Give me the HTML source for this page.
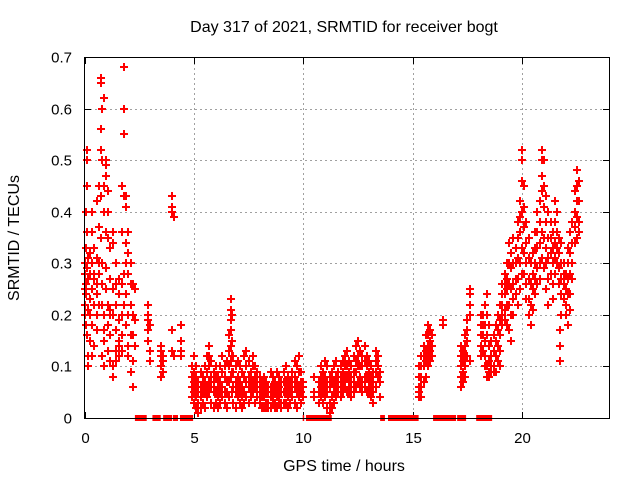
<!DOCTYPE html>
<html><head><meta charset="utf-8"><style>
body{margin:0;background:#fff}
svg{display:block;font-family:"Liberation Sans",sans-serif}
</style></head><body>
<svg id="chart" width="640" height="480" viewBox="0 0 640 480">
<rect width="640" height="480" fill="#fff"/>
<text x="344" y="32" font-size="16" text-anchor="middle">Day 317 of 2021, SRMTID for receiver bogt</text>
<text transform="translate(19,238) rotate(-90)" font-size="16" text-anchor="middle">SRMTID / TECUs</text>
<text x="344" y="471" font-size="16" text-anchor="middle">GPS time / hours</text>
<g id="grid"></g>
<g id="ticks"></g>
<g id="gaps"></g>
<g id="points"></g>
<rect x="84.5" y="57.5" width="525" height="361" fill="none" stroke="#000" stroke-width="1"/>
</svg>
<script>
const xTicks=[0,5,10,15,20];
const yTicks=[0,0.1,0.2,0.3,0.4,0.5,0.6,0.7];
const gapStarts=[2.3,3.1,3.59,4.04,4.36,9.97,10.12,13.51,13.87,15.93,17.03,17.9];
const gapEnds=[2.84,3.48,4.0,4.27,4.96,10.0,11.3,13.73,15.27,16.98,17.44,18.63];
const sampleTimes=[0,0.05,0.1,0.15,0.25,0.35,0.45,0.55,0.65,0.75,0.8,0.9,1.0,1.05,1.15,1.3,1.45,1.55,1.7,1.8,1.9,2.0,2.1,2.2,2.3,2.9,3.0,3.5,3.6,4.0,4.1,4.4,
4.9,5.0,5.1,5.2,5.3,5.4,5.5,5.6,5.7,5.8,5.9,6.0,6.1,6.2,6.3,6.4,6.5,6.6,6.7,6.75,6.8,6.9,7.0,7.1,7.2,7.3,7.4,7.5,7.6,7.7,7.8,7.9,8.0,8.1,8.2,8.3,8.4,8.5,8.6,8.7,8.8,8.9,9.0,9.1,9.2,9.3,9.4,9.5,9.6,9.7,9.8,9.9,10.0,
10.5,10.7,10.8,10.9,11.0,11.1,11.2,11.3,11.4,11.5,11.6,11.7,11.8,11.9,12.0,12.1,12.2,12.3,12.4,12.5,12.6,12.7,12.8,12.9,13.0,13.1,13.2,13.3,13.4,13.5,
15.3,15.4,15.5,15.6,15.7,15.8,15.9,16.4,17.2,17.3,17.4,17.5,17.6,18.1,18.2,18.3,18.4,18.5,18.6,18.7,18.8,18.9,19.0,19.1,19.2,19.3,19.4,19.5,19.6,19.7,19.8,19.9,
20.0,20.1,20.2,20.3,20.4,20.5,20.6,20.7,20.8,20.9,21.0,21.1,21.2,21.3,21.4,21.5,21.6,21.7,21.75,21.8,21.9,22.0,22.1,22.2,22.3,22.4,22.5,22.6];
const sampleValues=[
[0.2,0.25,0.28,0.3,0.22],[0.33,0.18,0.26,0.4,0.24],[0.45,0.5,0.52,0.36,0.16,0.29],[0.12,0.1,0.21,0.27,0.31],[0.2,0.23,0.28,0.32,0.15],[0.4,0.36,0.3,0.25,0.18,0.12],[0.28,0.27,0.22,0.14,0.33],[0.26,0.24,0.31,0.42,0.2,0.17],[0.3,0.28,0.22,0.37,0.45],[0.66,0.65,0.56,0.52,0.43,0.35],[0.6,0.5,0.3,0.26,0.22,0.12],[0.62,0.45,0.4,0.2,0.17,0.15,0.1],[0.5,0.49,0.47,0.36,0.29,0.25],[0.44,0.4,0.35,0.22,0.18,0.13],[0.33,0.27,0.2,0.16,0.11,0.21],[0.36,0.34,0.25,0.2,0.1,0.08],[0.3,0.26,0.22,0.17,0.13,0.11],[0.27,0.24,0.19,0.15,0.14,0.12],[0.45,0.36,0.26,0.2,0.16,0.13],[0.68,0.6,0.55,0.43,0.28,0.22],[0.43,0.41,0.34,0.3,0.24,0.18],[0.36,0.32,0.28,0.2,0.14,0.12],[0.3,0.26,0.22,0.16,0.09],[0.26,0.2,0.16,0.11,0.06],[0.25,0.19,0.14],[0.22,0.2,0.19,0.17,0.15],[0.18,0.13,0.11],[0.14,0.13,0.12,0.1,0.08],[0.12,0.11,0.09],[0.43,0.41,0.4,0.17,0.13],[0.39,0.12],[0.18,0.15,0.13,0.12],
[0.06,0.08,0.1,0.04],[0.12,0.09,0.07,0.05,0.03],[0.1,0.08,0.06,0.02,0.04],[0.07,0.05,0.03,0.01],[0.09,0.06,0.04,0.02],[0.08,0.05,0.03,0.06],[0.1,0.07,0.05,0.02],[0.12,0.09,0.06,0.04],[0.14,0.12,0.1,0.07,0.05],[0.11,0.08,0.06,0.03],[0.09,0.07,0.05,0.02],[0.1,0.08,0.05,0.03],[0.08,0.06,0.04,0.02],[0.1,0.07,0.05,0.03],[0.12,0.09,0.06,0.04],[0.1,0.08,0.05,0.03],[0.11,0.07,0.05,0.02],[0.16,0.13,0.1,0.07,0.04],[0.23,0.21,0.19,0.17,0.14,0.11,0.08],[0.2,0.15,0.12,0.09,0.05],[0.12,0.09,0.06,0.03],[0.1,0.07,0.05,0.02],[0.11,0.08,0.06,0.04],[0.1,0.07,0.05,0.03],[0.09,0.06,0.04,0.02],[0.12,0.08,0.05,0.03],[0.13,0.1,0.07,0.04],[0.11,0.08,0.06,0.03],[0.09,0.07,0.05,0.04],[0.12,0.1,0.07,0.05],[0.1,0.08,0.06,0.03],[0.09,0.07,0.05,0.04],[0.08,0.06,0.04,0.03],[0.07,0.05,0.04,0.02],[0.08,0.06,0.04,0.02],[0.07,0.05,0.03,0.02],[0.06,0.05,0.03,0.02],[0.09,0.06,0.04,0.02],[0.08,0.06,0.04,0.03],[0.07,0.05,0.03,0.02],[0.09,0.06,0.04,0.02],[0.08,0.06,0.04,0.03],[0.07,0.05,0.03,0.02],[0.09,0.07,0.05,0.03],[0.1,0.07,0.05,0.03],[0.08,0.06,0.04,0.02],[0.07,0.05,0.03],[0.09,0.07,0.05,0.04],[0.11,0.08,0.06,0.03],[0.1,0.07,0.05,0.02],[0.12,0.09,0.06,0.04],[0.09,0.07,0.05,0.03],[0.07,0.06,0.04],
[0.05,0.04,0.08],[0.07,0.05,0.03],[0.1,0.08,0.06,0.04],[0.09,0.07,0.05,0.03],[0.11,0.08,0.06,0.04],[0.1,0.07,0.05,0.02],[0.08,0.06,0.03,0.01],[0.09,0.07,0.04,0.02],[0.1,0.07,0.05,0.03],[0.11,0.08,0.06,0.04],[0.09,0.07,0.05],[0.1,0.08,0.06,0.04],[0.11,0.09,0.07,0.05],[0.12,0.1,0.08,0.06],[0.13,0.1,0.08,0.05],[0.11,0.09,0.07,0.05],[0.1,0.08,0.06,0.04],[0.12,0.09,0.07,0.05],[0.14,0.11,0.09,0.06],[0.15,0.12,0.1,0.07],[0.13,0.1,0.08,0.06],[0.12,0.1,0.07,0.05],[0.14,0.11,0.08,0.06],[0.12,0.1,0.08,0.05],[0.11,0.09,0.07,0.05],[0.1,0.08,0.06,0.04],[0.09,0.07,0.05,0.03],[0.13,0.11,0.09,0.06],[0.12,0.1,0.08],[0.09,0.07,0.04],
[0.1,0.08,0.06,0.04,0.05],[0.12,0.1,0.08,0.06,0.04],[0.14,0.12,0.1,0.07],[0.16,0.13,0.11,0.08],[0.18,0.16,0.14,0.12,0.1],[0.17,0.15,0.13,0.11],[0.16,0.14,0.12],[0.19,0.18],[0.12,0.1,0.08,0.06,0.14],[0.13,0.11,0.09,0.07],[0.16,0.14,0.12,0.1,0.08],[0.19,0.17,0.15,0.12],[0.25,0.24,0.22,0.2,0.11],[0.18,0.16,0.14,0.12,0.2],[0.2,0.18,0.16,0.13],[0.22,0.18,0.15,0.12,0.1],[0.24,0.2,0.16,0.1,0.08],[0.18,0.14,0.11,0.09,0.08],[0.15,0.12,0.09,0.1],[0.16,0.13,0.1,0.09],[0.18,0.15,0.12,0.09],[0.2,0.17,0.14,0.11],[0.22,0.19,0.16,0.13,0.1],[0.26,0.24,0.22,0.2,0.18],[0.28,0.26,0.24,0.21,0.19],[0.3,0.27,0.25,0.22,0.18],[0.34,0.3,0.26,0.22,0.17],[0.32,0.29,0.25,0.2,0.15],[0.35,0.3,0.26,0.23,0.2],[0.33,0.3,0.27,0.24],[0.38,0.35,0.31,0.27,0.22],[0.42,0.39,0.36,0.3,0.25],
[0.52,0.5,0.46,0.4,0.33,0.28],[0.45,0.41,0.37,0.32,0.28],[0.38,0.34,0.3,0.26,0.23],[0.35,0.31,0.27,0.23,0.2],[0.3,0.26,0.22,0.18],[0.32,0.28,0.25,0.21],[0.36,0.33,0.3,0.27,0.24],[0.4,0.36,0.33,0.29,0.26],[0.42,0.38,0.34,0.3,0.27],[0.52,0.5,0.47,0.44,0.36,0.31],[0.5,0.45,0.41,0.35,0.29],[0.43,0.38,0.33,0.3,0.25],[0.4,0.35,0.31,0.27,0.22],[0.38,0.35,0.32,0.28],[0.36,0.33,0.3,0.26,0.23],[0.42,0.38,0.34,0.31,0.28],[0.4,0.36,0.33,0.3],[0.35,0.32,0.29,0.26],[0.17,0.14,0.11],[0.34,0.3,0.27,0.24,0.2],[0.3,0.28,0.26,0.23],[0.28,0.25,0.22,0.2],[0.33,0.3,0.27,0.24,0.18],[0.36,0.32,0.28,0.24,0.21],[0.38,0.34,0.3,0.27],[0.44,0.4,0.37,0.34],[0.48,0.45,0.42,0.39,0.35],[0.46,0.42,0.38,0.36]];

const NS='http://www.w3.org/2000/svg';
const X0=84.6,XW=525,XMAX=24,Y0=418,YH=361,YMAX=0.7;
function xs(t){return X0+t/XMAX*XW;}
function ys(v){return Y0-v/YMAX*YH;}
function mk(tag,attrs,parent){const e=document.createElementNS(NS,tag);for(const k in attrs)e.setAttribute(k,attrs[k]);parent.appendChild(e);return e;}
const grid=document.getElementById('grid'),ticks=document.getElementById('ticks'),svg=document.getElementById('chart');
yTicks.forEach(v=>{
  const y=Math.round(ys(v))+0.5;
  if(v>0&&v<YMAX){const g=mk('line',{x1:85,x2:609,y1:y,y2:y,stroke:'#a0a0a0','stroke-dasharray':'2,3'},grid);
  
  }
  mk('line',{x1:85,x2:91,y1:y,y2:y,stroke:'#000'},ticks);
  mk('line',{x1:603,x2:609,y1:y,y2:y,stroke:'#000'},ticks);
  const t=mk('text',{x:72,y:y+5,'font-size':15,'text-anchor':'end'},svg);
  t.textContent=v===0?'0':v.toFixed(1);
  
  
});
xTicks.forEach(h=>{
  const x=Math.round(xs(h))+0.5;
  if(h>0){const g=mk('line',{x1:x,x2:x,y1:58,y2:418,stroke:'#a0a0a0','stroke-dasharray':'2,3'},grid);
  
  }
  mk('line',{x1:x,x2:x,y1:412,y2:418,stroke:'#000'},ticks);
  mk('line',{x1:x,x2:x,y1:58,y2:64,stroke:'#000'},ticks);
  const t=mk('text',{x:x,y:443,'font-size':15,'text-anchor':'middle'},svg);
  t.textContent=String(h);
  
  
});
const gaps=document.getElementById('gaps');
gapStarts.forEach((s,i)=>{
  const r=mk('rect',{x:xs(s),y:415,width:Math.max(1.5,xs(gapEnds[i])-xs(s)),height:6,fill:'#ff0000'},gaps);
  
  
});
const pts=document.getElementById('points');
let d='';
sampleTimes.forEach((t,i)=>{
  sampleValues[i].forEach(v=>{
    const x=Math.round(xs(t)),y=Math.round(ys(v));
    d+='M'+(x-4)+' '+y+'h8M'+x+' '+(y-4)+'v8';
  });
});
const p=mk('path',{d:d,stroke:'#ff0000','stroke-width':1.6,fill:'none','shape-rendering':'crispEdges'},pts);


</script>
</body></html>
